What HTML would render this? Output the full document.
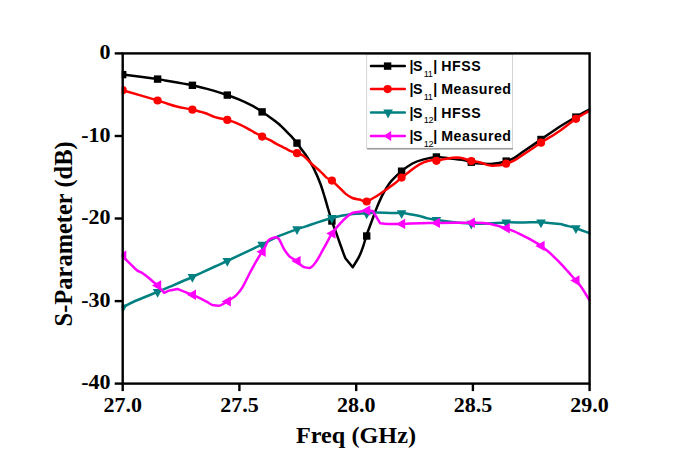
<!DOCTYPE html>
<html><head><meta charset="utf-8"><style>
html,body{margin:0;padding:0;background:#fff;}
body{width:685px;height:460px;overflow:hidden;}
svg{display:block;}

</style></head><body>
<svg width="685" height="460" viewBox="0 0 685 460">
<rect width="685" height="460" fill="#fff"/>
<clipPath id="pc"><rect x="121.7" y="47.4" width="468.9" height="342.2"/></clipPath>
<g clip-path="url(#pc)">
<path d="M122.7,74.6 C128.5,75.3 150.3,78.1 157.4,79.1 C160.5,79.5 162.0,79.9 165.0,80.4 C170.8,81.4 184.1,83.5 192.4,85.3 C200.7,87.1 209.2,89.5 215.0,91.1 C219.9,92.5 223.0,93.6 227.1,95.0 C231.2,96.4 235.4,98.0 239.4,99.7 C243.4,101.4 248.3,103.7 251.1,105.1 C253.2,106.1 254.3,106.8 256.1,107.9 C258.0,109.0 259.9,110.3 262.2,111.9 C264.5,113.5 268.0,115.8 270.2,117.4 C272.3,118.9 273.6,119.9 275.4,121.3 C277.1,122.7 278.9,124.1 280.7,125.7 C282.4,127.3 284.2,129.2 285.9,130.9 C287.6,132.6 289.2,134.0 291.1,136.1 C293.0,138.2 295.4,141.0 297.2,143.3 C299.0,145.6 300.3,147.7 302.0,150.0 C303.7,152.3 305.5,154.3 307.4,157.4 C309.4,160.7 312.1,165.2 314.3,169.6 C316.5,174.0 318.8,179.3 320.5,184.0 C322.2,188.7 323.6,193.4 324.8,197.5 C326.1,201.6 326.9,204.8 328.0,208.5 C329.1,212.2 330.1,215.8 331.3,219.5 C332.5,223.2 334.0,226.8 335.4,230.6 C336.8,234.3 338.0,238.2 339.4,242.0 C340.8,245.8 342.5,250.7 343.5,253.4 C344.2,255.3 345.4,258.2 345.4,258.2 C345.4,258.2 352.7,267.2 352.7,267.2 C352.7,267.2 357.5,259.8 359.2,256.4 C360.9,253.0 361.9,250.0 363.1,246.6 C364.3,243.2 365.3,239.1 366.3,236.0 C367.3,232.9 368.0,231.2 369.1,228.2 C370.2,225.2 371.7,221.3 373.0,217.8 C374.3,214.3 375.4,211.1 376.9,207.4 C378.4,203.7 380.4,199.1 382.1,195.6 C383.9,192.1 385.8,189.0 387.4,186.5 C389.0,184.0 389.8,182.6 391.9,180.4 C394.2,177.9 397.9,174.2 401.3,171.4 C404.7,168.6 408.8,165.5 412.4,163.5 C416.0,161.5 418.8,160.7 422.8,159.6 C426.8,158.5 432.6,157.3 436.3,157.0 C439.8,156.7 441.9,157.5 445.0,157.8 C448.1,158.2 452.0,158.7 455.2,159.1 C458.4,159.5 461.7,159.7 464.4,160.2 C467.1,160.7 468.5,161.6 471.2,162.2 C473.9,162.8 476.7,163.3 480.3,163.6 C483.9,163.9 488.5,164.2 492.8,163.8 C497.1,163.4 502.4,162.2 506.0,161.2 C509.5,160.2 511.4,159.6 514.4,157.9 C517.4,156.2 520.2,153.7 524.1,151.0 C528.5,148.0 534.7,143.8 540.7,139.7 C546.7,135.6 554.1,130.3 560.0,126.5 C565.9,122.7 570.9,119.9 575.8,117.1 C580.7,114.2 587.3,110.7 589.6,109.4" fill="none" stroke="#000" stroke-width="2.5" stroke-linejoin="round" stroke-linecap="round"/>
<rect x="119.0" y="70.9" width="7.4" height="7.4" fill="#000"/>
<rect x="153.9" y="75.4" width="7.4" height="7.4" fill="#000"/>
<rect x="188.7" y="81.6" width="7.4" height="7.4" fill="#000"/>
<rect x="223.6" y="91.4" width="7.4" height="7.4" fill="#000"/>
<rect x="258.4" y="108.2" width="7.4" height="7.4" fill="#000"/>
<rect x="293.3" y="139.4" width="7.4" height="7.4" fill="#000"/>
<rect x="328.2" y="217.3" width="7.4" height="7.4" fill="#000"/>
<rect x="363.0" y="232.3" width="7.4" height="7.4" fill="#000"/>
<rect x="397.9" y="167.5" width="7.4" height="7.4" fill="#000"/>
<rect x="432.7" y="153.3" width="7.4" height="7.4" fill="#000"/>
<rect x="467.6" y="158.5" width="7.4" height="7.4" fill="#000"/>
<rect x="502.5" y="157.4" width="7.4" height="7.4" fill="#000"/>
<rect x="537.3" y="135.8" width="7.4" height="7.4" fill="#000"/>
<rect x="572.2" y="113.4" width="7.4" height="7.4" fill="#000"/>
<path d="M122.7,90.2 C128.5,91.9 150.3,98.3 157.4,100.4 C160.5,101.3 161.9,101.9 165.0,102.9 C168.4,104.0 173.1,105.7 177.7,106.8 C182.3,107.9 188.0,108.7 192.4,109.7 C196.8,110.7 200.3,111.5 204.1,112.7 C207.9,113.9 211.2,115.9 215.0,117.1 C218.8,118.3 224.2,119.1 227.1,119.8 C229.2,120.3 230.2,120.7 232.2,121.4 C234.4,122.2 237.8,123.6 240.5,124.8 C243.2,126.0 245.9,127.6 248.2,128.8 C250.5,130.1 251.9,131.0 254.2,132.3 C256.5,133.6 259.2,135.1 261.8,136.4 C264.4,137.7 267.6,139.0 270.0,140.2 C272.4,141.4 273.9,142.5 276.0,143.6 C278.1,144.7 280.4,145.8 282.4,146.8 C284.4,147.8 286.4,149.0 288.0,149.8 C289.6,150.6 290.5,151.0 292.0,151.6 C293.5,152.2 295.1,152.5 297.0,153.2 C298.9,153.9 301.4,154.2 303.7,155.9 C306.1,157.6 308.6,161.0 311.3,163.5 C314.0,166.0 317.5,168.8 320.0,171.1 C322.5,173.4 324.6,176.0 326.5,177.6 C328.3,179.1 329.8,179.0 331.6,180.4 C333.6,181.9 336.2,184.6 338.5,186.8 C340.8,189.0 343.1,191.7 345.4,193.6 C347.7,195.5 349.9,197.0 352.4,198.0 C354.9,199.0 358.0,199.2 360.3,199.8 C362.6,200.4 364.0,202.1 366.2,201.8 C368.4,201.5 371.2,199.2 373.4,198.0 C375.6,196.8 377.1,195.9 379.5,194.3 C383.1,191.9 391.4,186.0 395.0,183.3 C397.6,181.4 398.9,179.8 401.1,178.0 C403.3,176.2 405.5,174.7 408.0,172.8 C410.5,170.9 413.3,168.4 415.9,166.7 C418.5,165.0 421.1,163.5 423.7,162.4 C426.3,161.3 429.4,160.5 431.5,160.2 C433.4,160.0 434.4,161.0 436.3,160.8 C438.6,160.6 441.6,159.5 445.0,159.0 C448.4,158.5 453.5,157.7 456.7,157.6 C459.8,157.6 462.0,158.1 464.4,158.7 C466.8,159.3 468.5,160.4 471.2,161.0 C473.9,161.6 477.1,161.7 480.3,162.5 C483.5,163.3 487.3,165.2 490.5,165.6 C493.7,166.0 497.1,165.5 499.7,165.2 C502.3,164.9 503.6,164.6 506.0,163.8 C508.4,163.0 511.4,161.9 514.4,160.3 C517.4,158.7 520.2,156.5 524.1,154.0 C528.5,151.1 534.9,146.7 540.9,142.8 C546.9,138.9 554.2,134.7 560.0,130.7 C565.8,126.7 570.8,122.2 575.7,118.9 C580.6,115.6 587.3,112.2 589.6,110.8" fill="none" stroke="#f00" stroke-width="2.5" stroke-linejoin="round" stroke-linecap="round"/>
<circle cx="122.7" cy="90.2" r="4.1" fill="#f00"/>
<circle cx="157.6" cy="100.5" r="4.1" fill="#f00"/>
<circle cx="192.4" cy="109.7" r="4.1" fill="#f00"/>
<circle cx="227.3" cy="119.9" r="4.1" fill="#f00"/>
<circle cx="262.1" cy="136.6" r="4.1" fill="#f00"/>
<circle cx="297.0" cy="153.2" r="4.1" fill="#f00"/>
<circle cx="331.9" cy="180.6" r="4.1" fill="#f00"/>
<circle cx="366.7" cy="201.5" r="4.1" fill="#f00"/>
<circle cx="401.6" cy="177.6" r="4.1" fill="#f00"/>
<circle cx="436.4" cy="160.8" r="4.1" fill="#f00"/>
<circle cx="471.3" cy="161.0" r="4.1" fill="#f00"/>
<circle cx="506.2" cy="163.7" r="4.1" fill="#f00"/>
<circle cx="541.0" cy="142.7" r="4.1" fill="#f00"/>
<circle cx="575.9" cy="118.8" r="4.1" fill="#f00"/>
<path d="M122.7,307.3 C124.6,306.3 129.4,303.6 134.1,301.5 C139.9,298.9 151.4,294.5 157.4,292.0 C162.5,289.9 165.0,288.9 170.0,286.7 C175.8,284.2 184.7,280.4 192.2,277.0 C199.7,273.6 209.2,269.2 215.0,266.5 C219.8,264.3 222.3,263.3 227.1,261.0 C233.8,257.9 249.2,250.5 255.0,247.8 C257.8,246.5 259.3,246.0 262.1,244.6 C265.7,242.8 270.9,239.6 276.7,237.0 C282.5,234.4 292.1,231.0 296.8,229.3 C300.0,228.1 301.7,227.7 305.0,226.6 C310.8,224.7 323.8,220.1 331.7,218.0 C339.6,215.9 346.7,214.8 352.5,214.0 C358.1,213.3 362.9,213.6 366.7,213.4 C370.1,213.2 371.8,212.7 375.3,212.6 C379.2,212.5 385.6,212.9 390.0,213.0 C394.4,213.1 397.8,212.8 401.4,213.1 C405.0,213.3 408.7,214.0 411.9,214.5 C415.1,215.0 418.1,215.5 420.7,216.2 C423.3,216.8 424.9,217.8 427.7,218.4 C430.5,219.1 433.6,219.5 437.3,220.1 C441.0,220.7 444.9,221.3 450.0,221.8 C455.6,222.4 464.9,223.3 471.2,223.6 C477.5,223.9 482.2,223.7 488.0,223.5 C493.8,223.3 500.0,222.6 506.0,222.4 C512.0,222.2 518.1,222.5 523.9,222.5 C529.7,222.5 534.6,222.0 540.6,222.3 C546.6,222.6 555.8,223.6 560.0,224.1 C562.3,224.4 563.4,224.9 565.7,225.5 C568.4,226.2 572.0,226.9 576.0,228.2 C580.0,229.5 587.3,232.5 589.6,233.3" fill="none" stroke="#008080" stroke-width="2.5" stroke-linejoin="round" stroke-linecap="round"/>
<path d="M117.9,304.4 L127.5,304.4 L122.7,313.2Z" fill="#008080"/>
<path d="M152.8,289.0 L162.4,289.0 L157.6,297.8Z" fill="#008080"/>
<path d="M187.6,274.0 L197.2,274.0 L192.4,282.8Z" fill="#008080"/>
<path d="M222.5,258.0 L232.1,258.0 L227.3,266.8Z" fill="#008080"/>
<path d="M257.3,241.7 L266.9,241.7 L262.1,250.5Z" fill="#008080"/>
<path d="M292.2,226.3 L301.8,226.3 L297.0,235.1Z" fill="#008080"/>
<path d="M327.1,215.1 L336.7,215.1 L331.9,223.9Z" fill="#008080"/>
<path d="M361.9,210.5 L371.5,210.5 L366.7,219.3Z" fill="#008080"/>
<path d="M396.8,210.2 L406.4,210.2 L401.6,219.0Z" fill="#008080"/>
<path d="M431.6,217.0 L441.2,217.0 L436.4,225.8Z" fill="#008080"/>
<path d="M466.5,220.7 L476.1,220.7 L471.3,229.5Z" fill="#008080"/>
<path d="M501.4,219.5 L511.0,219.5 L506.2,228.3Z" fill="#008080"/>
<path d="M536.2,219.4 L545.8,219.4 L541.0,228.2Z" fill="#008080"/>
<path d="M571.1,225.3 L580.7,225.3 L575.9,234.1Z" fill="#008080"/>
<path d="M122.7,255.8 C123.0,256.1 124.0,257.6 125.0,258.6 C126.0,259.6 130.0,263.5 131.3,264.8 C132.6,266.1 135.7,269.5 137.0,270.4 C138.3,271.3 141.4,272.4 142.6,273.2 C143.8,274.0 146.9,276.5 148.2,277.5 C149.5,278.5 152.8,281.5 153.9,282.4 C155.0,283.3 157.0,284.8 158.1,286.0 C159.2,287.2 164.2,292.8 164.2,292.8 C164.2,292.8 168.5,290.8 170.0,290.4 C171.5,290.0 177.5,288.9 177.5,288.9 C177.5,288.9 185.0,291.9 186.7,292.6 C188.4,293.3 191.1,294.1 192.7,294.8 C194.3,295.5 199.3,297.8 200.9,298.6 C202.5,299.4 206.3,301.5 207.5,302.2 C208.7,302.9 211.0,304.4 212.0,304.8 C213.0,305.2 215.6,305.5 216.5,305.6 C217.4,305.7 219.2,305.8 220.5,305.3 C221.8,304.8 226.2,302.1 227.9,301.0 C229.6,299.9 234.5,296.8 236.1,295.3 C237.7,293.8 241.1,289.6 242.6,287.1 C244.1,284.6 248.3,275.9 249.8,273.0 C251.3,270.1 255.0,263.4 256.3,261.1 C257.6,258.8 260.7,254.0 261.7,252.4 C262.7,250.8 264.2,248.4 265.0,247.0 C265.8,245.6 267.6,241.0 268.8,239.9 C270.0,238.8 274.8,237.3 275.9,237.2 C277.0,237.1 278.3,238.1 279.1,239.3 C279.9,240.5 282.4,246.1 283.3,247.8 C284.2,249.5 286.8,253.2 287.6,254.3 C288.4,255.4 289.9,256.9 290.9,257.6 C291.9,258.3 295.5,259.9 296.8,260.9 C298.1,261.9 301.1,265.5 302.6,266.3 C304.1,267.1 308.6,268.5 310.2,267.9 C311.8,267.3 315.4,262.8 316.7,260.9 C318.0,259.0 321.0,253.3 322.2,251.1 C323.4,248.9 326.5,243.3 327.6,241.3 C328.7,239.3 330.6,235.2 332.0,233.2 C333.4,231.2 338.7,225.2 340.3,223.4 C341.9,221.6 345.0,218.4 346.4,217.2 C347.8,216.0 351.0,213.5 352.5,212.9 C354.0,212.3 357.9,212.1 359.5,211.8 C361.1,211.5 365.5,210.6 367.0,210.5 C368.5,210.4 372.7,210.9 372.7,210.9 C372.7,210.9 380.3,223.3 380.3,223.3 C380.3,223.3 385.3,223.8 387.6,223.9 C389.9,224.0 397.7,224.0 401.4,223.9 C405.1,223.8 416.7,223.3 420.7,223.2 C424.7,223.1 433.5,223.0 437.3,222.9 C441.1,222.8 451.1,222.7 455.0,222.7 C458.9,222.7 468.9,222.7 472.1,222.7 C475.3,222.7 481.4,222.9 483.9,223.1 C486.4,223.3 492.4,224.5 494.4,224.9 C496.4,225.3 500.9,226.7 502.3,227.1 C503.7,227.5 505.3,227.9 507.0,228.6 C508.7,229.3 515.4,231.9 517.9,233.1 C520.4,234.3 527.4,237.7 529.9,239.1 C532.4,240.5 538.7,244.3 540.6,245.6 C542.5,246.9 545.5,249.4 547.0,250.6 C548.5,251.8 552.5,255.4 553.9,256.8 C555.3,258.2 558.7,261.4 560.0,262.8 C561.3,264.2 564.7,267.8 565.9,269.2 C567.1,270.6 569.9,273.7 571.0,275.0 C572.1,276.3 574.9,279.4 576.0,280.6 C577.1,281.8 579.6,284.7 580.5,286.0 C581.4,287.3 583.5,290.4 584.5,292.0 C585.5,293.6 589.0,299.6 589.6,300.5" fill="none" stroke="#f0f" stroke-width="2.5" stroke-linejoin="round" stroke-linecap="round"/>
<path d="M117.1,255.8 L126.3,250.6 L126.3,261.0Z" fill="#f0f"/>
<path d="M152.0,285.5 L161.2,280.3 L161.2,290.7Z" fill="#f0f"/>
<path d="M186.8,294.7 L196.0,289.5 L196.0,299.9Z" fill="#f0f"/>
<path d="M221.7,301.4 L230.9,296.2 L230.9,306.6Z" fill="#f0f"/>
<path d="M256.5,251.7 L265.7,246.5 L265.7,256.9Z" fill="#f0f"/>
<path d="M291.4,261.1 L300.6,255.9 L300.6,266.3Z" fill="#f0f"/>
<path d="M326.3,233.5 L335.5,228.3 L335.5,238.7Z" fill="#f0f"/>
<path d="M361.1,210.5 L370.3,205.3 L370.3,215.7Z" fill="#f0f"/>
<path d="M396.0,223.9 L405.2,218.7 L405.2,229.1Z" fill="#f0f"/>
<path d="M430.8,222.9 L440.0,217.7 L440.0,228.1Z" fill="#f0f"/>
<path d="M465.7,222.7 L474.9,217.5 L474.9,227.9Z" fill="#f0f"/>
<path d="M500.6,228.3 L509.8,223.1 L509.8,233.5Z" fill="#f0f"/>
<path d="M535.4,245.9 L544.6,240.7 L544.6,251.1Z" fill="#f0f"/>
<path d="M570.3,280.5 L579.5,275.3 L579.5,285.7Z" fill="#f0f"/>
</g>
<rect x="366.6" y="54.0" width="145.9" height="94.3" fill="#fff" stroke="#d4d4d4" stroke-width="1"/>
<line x1="367.1" y1="148.9" x2="513.0" y2="148.9" stroke="#8a8a8a" stroke-width="1.4"/>
<line x1="371.0" y1="66.1" x2="404.8" y2="66.1" stroke="#000" stroke-width="2.5" stroke-linecap="round"/>
<rect x="383.9" y="62.4" width="7.4" height="7.4" fill="#000"/>
<text x="409.6" y="71.1" font-family="Liberation Sans, sans-serif" font-weight="bold" font-size="14.2" letter-spacing="-0.6">|S</text>
<text x="423.8" y="76.9" font-family="Liberation Sans, sans-serif" font-weight="normal" font-size="9.2" letter-spacing="-0.4">11</text>
<text x="433.3" y="71.1" font-family="Liberation Sans, sans-serif" font-weight="bold" font-size="14.2">|</text>
<text x="441.3" y="71.1" font-family="Liberation Sans, sans-serif" font-weight="bold" font-size="14.2" letter-spacing="0.5">HFSS</text>
<line x1="371.0" y1="89.1" x2="404.8" y2="89.1" stroke="#f00" stroke-width="2.5" stroke-linecap="round"/>
<circle cx="387.6" cy="89.1" r="4.1" fill="#f00"/>
<text x="409.6" y="94.1" font-family="Liberation Sans, sans-serif" font-weight="bold" font-size="14.2" letter-spacing="-0.6">|S</text>
<text x="423.8" y="99.9" font-family="Liberation Sans, sans-serif" font-weight="normal" font-size="9.2" letter-spacing="-0.4">11</text>
<text x="433.3" y="94.1" font-family="Liberation Sans, sans-serif" font-weight="bold" font-size="14.2">|</text>
<text x="441.3" y="94.1" font-family="Liberation Sans, sans-serif" font-weight="bold" font-size="14.2" letter-spacing="0.5">Measured</text>
<line x1="371.0" y1="112.5" x2="404.8" y2="112.5" stroke="#008080" stroke-width="2.5" stroke-linecap="round"/>
<path d="M383.3,109.6 L392.9,109.6 L388.1,118.4Z" fill="#008080"/>
<text x="409.6" y="117.5" font-family="Liberation Sans, sans-serif" font-weight="bold" font-size="14.2" letter-spacing="-0.6">|S</text>
<text x="423.8" y="123.3" font-family="Liberation Sans, sans-serif" font-weight="normal" font-size="9.2" letter-spacing="-0.4">12</text>
<text x="433.3" y="117.5" font-family="Liberation Sans, sans-serif" font-weight="bold" font-size="14.2">|</text>
<text x="441.3" y="117.5" font-family="Liberation Sans, sans-serif" font-weight="bold" font-size="14.2" letter-spacing="0.5">HFSS</text>
<line x1="371.0" y1="135.9" x2="404.8" y2="135.9" stroke="#f0f" stroke-width="2.5" stroke-linecap="round"/>
<path d="M383.6,135.9 L391.2,130.9 L391.2,140.9Z" fill="#f0f"/>
<text x="409.6" y="140.9" font-family="Liberation Sans, sans-serif" font-weight="bold" font-size="14.2" letter-spacing="-0.6">|S</text>
<text x="423.8" y="146.7" font-family="Liberation Sans, sans-serif" font-weight="normal" font-size="9.2" letter-spacing="-0.4">12</text>
<text x="433.3" y="140.9" font-family="Liberation Sans, sans-serif" font-weight="bold" font-size="14.2">|</text>
<text x="441.3" y="140.9" font-family="Liberation Sans, sans-serif" font-weight="bold" font-size="14.2" letter-spacing="0.5">Measured</text>
<rect x="122.7" y="53.4" width="466.9" height="330.2" fill="none" stroke="#000" stroke-width="2.4"/>
<line x1="114.7" y1="53.4" x2="122.7" y2="53.4" stroke="#000" stroke-width="2.4"/>
<text x="110.5" y="59.1" text-anchor="end" font-family="Liberation Serif, serif" font-weight="bold" font-size="22">0</text>
<line x1="114.7" y1="136.0" x2="122.7" y2="136.0" stroke="#000" stroke-width="2.4"/>
<text x="110.5" y="141.7" text-anchor="end" font-family="Liberation Serif, serif" font-weight="bold" font-size="22">-10</text>
<line x1="114.7" y1="218.5" x2="122.7" y2="218.5" stroke="#000" stroke-width="2.4"/>
<text x="110.5" y="224.2" text-anchor="end" font-family="Liberation Serif, serif" font-weight="bold" font-size="22">-20</text>
<line x1="114.7" y1="301.1" x2="122.7" y2="301.1" stroke="#000" stroke-width="2.4"/>
<text x="110.5" y="306.8" text-anchor="end" font-family="Liberation Serif, serif" font-weight="bold" font-size="22">-30</text>
<line x1="114.7" y1="383.6" x2="122.7" y2="383.6" stroke="#000" stroke-width="2.4"/>
<text x="110.5" y="389.3" text-anchor="end" font-family="Liberation Serif, serif" font-weight="bold" font-size="22">-40</text>
<line x1="122.7" y1="383.6" x2="122.7" y2="391.1" stroke="#000" stroke-width="2.4"/>
<text x="122.7" y="411.6" text-anchor="middle" font-family="Liberation Serif, serif" font-weight="bold" font-size="22">27.0</text>
<line x1="239.4" y1="383.6" x2="239.4" y2="391.1" stroke="#000" stroke-width="2.4"/>
<text x="239.4" y="411.6" text-anchor="middle" font-family="Liberation Serif, serif" font-weight="bold" font-size="22">27.5</text>
<line x1="356.2" y1="383.6" x2="356.2" y2="391.1" stroke="#000" stroke-width="2.4"/>
<text x="356.2" y="411.6" text-anchor="middle" font-family="Liberation Serif, serif" font-weight="bold" font-size="22">28.0</text>
<line x1="472.9" y1="383.6" x2="472.9" y2="391.1" stroke="#000" stroke-width="2.4"/>
<text x="472.9" y="411.6" text-anchor="middle" font-family="Liberation Serif, serif" font-weight="bold" font-size="22">28.5</text>
<line x1="589.6" y1="383.6" x2="589.6" y2="391.1" stroke="#000" stroke-width="2.4"/>
<text x="589.6" y="411.6" text-anchor="middle" font-family="Liberation Serif, serif" font-weight="bold" font-size="22">29.0</text>
<text x="356.0" y="443.3" text-anchor="middle" font-family="Liberation Serif, serif" font-weight="bold" font-size="23" textLength="120" lengthAdjust="spacingAndGlyphs">Freq (GHz)</text>
<text transform="translate(72.2,233.9) rotate(-90)" text-anchor="middle" font-family="Liberation Serif, serif" font-weight="bold" font-size="24.3" textLength="185" lengthAdjust="spacingAndGlyphs">S-Parameter (dB)</text>
</svg>
</body></html>
